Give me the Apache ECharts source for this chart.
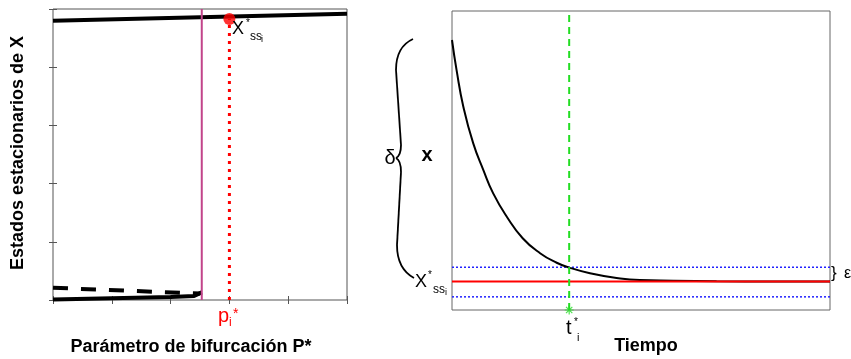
<!DOCTYPE html>
<html>
<head>
<meta charset="utf-8">
<script src="https://cdn.jsdelivr.net/npm/echarts@6/dist/echarts.min.js"></script>
<style>
html,body{margin:0;padding:0;background:#fff;}
#c{width:851px;height:359px;}
</style>
</head>
<body>
<div id="c"></div>
<script>
// ---- Left panel: bifurcation diagram ----
var upperBranch = [[0, 4.80], [5, 4.92]];
var lowerStable = [[0, 0.01], [1, 0.03], [2, 0.05], [2.4, 0.07], [2.53, 0.13]];
var unstableBranch = [[0, 0.21], [2.5, 0.11]];
var bifurcationP = 2.53;
var pStar = 3.0;
var xssAtPStar = 4.83;

// ---- Right panel: time course ----
var timeVals = [0, 0.12, 0.30, 0.56, 0.83, 1.09, 1.45, 1.87, 2.33, 2.77, 3.12, 3.65, 4.27, 4.97, 5.85, 7.0, 8.5, 10];
var xVals    = [90.3, 80.3, 68.0, 55.8, 46.8, 39.0, 31.2, 24.0, 19.0, 15.8, 14.1, 12.3, 10.9, 10.0, 9.8, 9.6, 9.5, 9.5];
var xss = 9.5;
var epsUpper = 14.3;
var epsLower = 4.4;
var tStar = 3.1;

var FONT = "'Liberation Sans', Arial, Helvetica, sans-serif";

var curve = timeVals.map(function (t, i) { return [t, xVals[i]]; });

var chart = echarts.init(document.getElementById('c'), null, {renderer: 'canvas'});

function txt(text, x, y, size, opts) {
  opts = opts || {};
  return {
    type: 'text', x: x, y: y, rotation: opts.rotation || 0, z: 100,
    style: {
      text: text, x: 0, y: 0,
      font: (opts.bold ? 'bold ' : '') + size + 'px ' + FONT,
      fill: opts.color || '#000',
      textAlign: opts.align || 'left',
      textVerticalAlign: 'middle'
    }
  };
}
function bz(x1, y1, c1x, c1y, c2x, c2y, x2, y2) {
  return {type: 'bezierCurve', z: 100,
    shape: {x1: x1, y1: y1, cpx1: c1x, cpy1: c1y, cpx2: c2x, cpy2: c2y, x2: x2, y2: y2},
    style: {stroke: '#000', lineWidth: 1.8, fill: null}};
}

var tickStyle = {show: true, inside: true, length: 4, lineStyle: {color: '#555', width: 1}};

var option = {
  animation: false,
  backgroundColor: '#fff',
  grid: [
    {left: 53, top: 9, right: 504, bottom: 59, show: true, borderColor: '#555', borderWidth: 1, backgroundColor: 'transparent'},
    {left: 452, top: 11, right: 21, bottom: 49, show: true, borderColor: '#666', borderWidth: 1, backgroundColor: 'transparent'}
  ],
  xAxis: [
    {gridIndex: 0, type: 'value', min: 0, max: 5, interval: 1, axisLine: {show: false}, axisTick: tickStyle, axisLabel: {show: false}, splitLine: {show: false}},
    {gridIndex: 0, type: 'value', position: 'top', min: 0, max: 5, interval: 1, axisLine: {show: false}, axisTick: tickStyle, axisLabel: {show: false}, splitLine: {show: false}},
    {gridIndex: 1, type: 'value', min: 0, max: 10, axisLine: {show: false}, axisTick: {show: false}, axisLabel: {show: false}, splitLine: {show: false}}
  ],
  yAxis: [
    {gridIndex: 0, type: 'value', min: 0, max: 5, interval: 1, axisLine: {show: false}, axisTick: tickStyle, axisLabel: {show: false}, splitLine: {show: false}},
    {gridIndex: 0, type: 'value', position: 'right', min: 0, max: 5, interval: 1, axisLine: {show: false}, axisTick: tickStyle, axisLabel: {show: false}, splitLine: {show: false}},
    {gridIndex: 1, type: 'value', min: 0, max: 100, axisLine: {show: false}, axisTick: {show: false}, axisLabel: {show: false}, splitLine: {show: false}}
  ],
  series: [
    {type: 'line', xAxisIndex: 0, yAxisIndex: 0, data: upperBranch, symbol: 'none', lineStyle: {color: '#000', width: 4}},
    {type: 'line', xAxisIndex: 0, yAxisIndex: 0, data: lowerStable, symbol: 'none', lineStyle: {color: '#000', width: 4}},
    {type: 'line', xAxisIndex: 0, yAxisIndex: 0, data: unstableBranch, symbol: 'none', lineStyle: {color: '#000', width: 4, type: [15, 13]}},
    {type: 'line', xAxisIndex: 0, yAxisIndex: 0, data: [[bifurcationP, 0], [bifurcationP, 5]], symbol: 'none', lineStyle: {color: '#c2448a', width: 2}},
    {type: 'line', xAxisIndex: 0, yAxisIndex: 0, data: [[pStar, 0], [pStar, xssAtPStar]], symbol: 'none', lineStyle: {color: '#ff0000', width: 3, type: [3, 5]}},
    {type: 'scatter', xAxisIndex: 0, yAxisIndex: 0, data: [[pStar, xssAtPStar]], symbol: 'circle', symbolSize: 12, itemStyle: {color: '#ff0000'}, z: 10},

    {type: 'line', xAxisIndex: 2, yAxisIndex: 2, data: [[0, epsUpper], [10, epsUpper]], symbol: 'none', lineStyle: {color: '#2222ff', width: 1.5, type: [2, 2]}},
    {type: 'line', xAxisIndex: 2, yAxisIndex: 2, data: [[0, epsLower], [10, epsLower]], symbol: 'none', lineStyle: {color: '#2222ff', width: 1.5, type: [2, 2]}},
    {type: 'line', xAxisIndex: 2, yAxisIndex: 2, data: curve, symbol: 'none', smooth: 0.5, lineStyle: {color: '#000', width: 2}},
    {type: 'line', xAxisIndex: 2, yAxisIndex: 2, data: [[0, xss], [10, xss]], symbol: 'none', lineStyle: {color: '#ff0000', width: 2}},
    {type: 'line', xAxisIndex: 2, yAxisIndex: 2, data: [[tStar, 0], [tStar, 100]], symbol: 'none', lineStyle: {color: '#22dd22', width: 2, type: [7, 5]}},
    {type: 'scatter', xAxisIndex: 2, yAxisIndex: 2, data: [[tStar, 0]], clip: false,
      symbol: 'path://M5,0L5,10M0,5L10,5M1.5,1.5L8.5,8.5M8.5,1.5L1.5,8.5', symbolSize: 9,
      itemStyle: {color: 'none', borderColor: '#22dd22', borderWidth: 1.2}, z: 12}
  ],
  graphic: [
    // axis titles
    txt('Estados estacionarios de X', 18, 153, 18, {bold: true, rotation: Math.PI / 2, align: 'center'}),
    txt('Parámetro de bifurcación P*', 191, 347, 18, {bold: true, align: 'center'}),
    txt('Tiempo', 646, 346, 18, {bold: true, align: 'center'}),
    txt('x', 427, 155, 20, {bold: true, align: 'center'}),
    // left annotations
    txt('X', 232, 29, 18),
    txt('*', 246, 23, 10),
    txt('ss', 250, 37, 12),
    txt('i', 261, 40, 9),
    txt('p', 218, 316, 20, {color: '#ff0000'}),
    txt('i', 229, 323, 12, {color: '#ff0000'}),
    txt('*', 233, 314, 14, {color: '#ff0000'}),
    // right annotations
    txt('δ', 390, 158, 20, {align: 'center'}),
    txt('X', 415, 282, 18),
    txt('*', 428, 275, 10),
    txt('ss', 433, 290, 12),
    txt('i', 445, 293, 9),
    txt('t', 566, 328, 20),
    txt('*', 574, 322, 10),
    txt('i', 577, 338, 11),
    txt('}', 831, 273, 17),
    txt('ε', 844, 274, 16),
    // delta brace
    bz(413, 39, 402, 44, 396, 54, 396, 70),
    {type: 'line', z: 100, shape: {x1: 396, y1: 70, x2: 401, y2: 145}, style: {stroke: '#000', lineWidth: 1.8}},
    bz(401, 145, 401, 152, 400, 156, 396, 158),
    bz(396, 158, 400, 160, 401, 165, 401, 172),
    {type: 'line', z: 100, shape: {x1: 401, y1: 172, x2: 397, y2: 245}, style: {stroke: '#000', lineWidth: 1.8}},
    bz(397, 245, 397, 262, 403, 272, 414, 278)
  ]
};
chart.setOption(option);
</script>
</body>
</html>
